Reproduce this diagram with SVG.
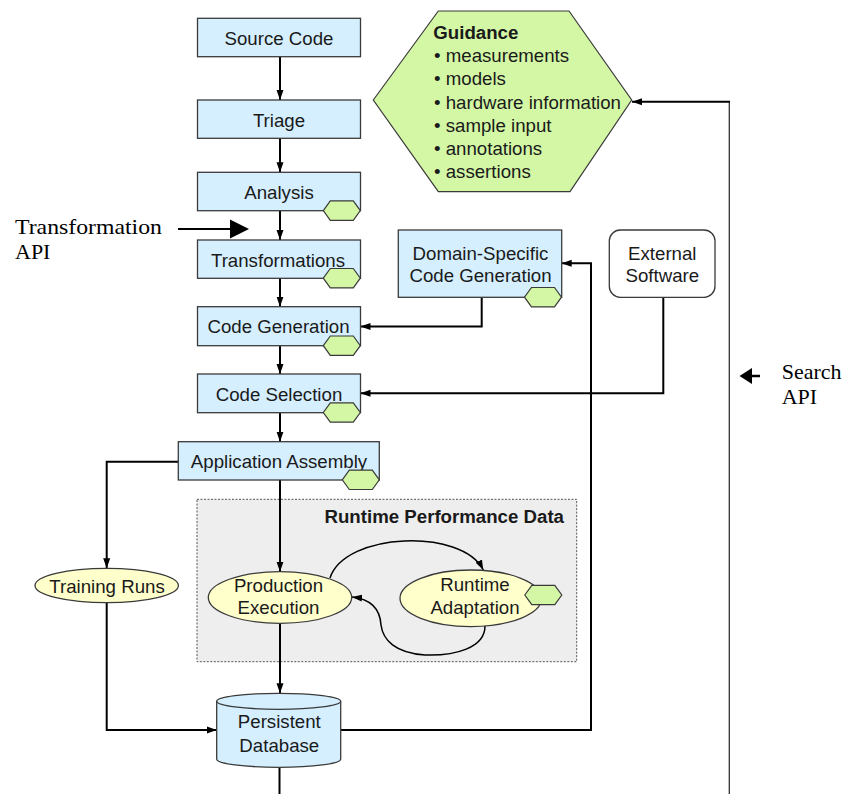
<svg xmlns="http://www.w3.org/2000/svg" width="847" height="794" viewBox="0 0 847 794">
<style>
  .box { fill: #d5efff; stroke: #3a3a3a; stroke-width: 1.3; }
  .ell { fill: #ffffcc; stroke: #3a3a3a; stroke-width: 1.3; }
  .hex { fill: #d4f7a6; stroke: #3a3a3a; stroke-width: 1.2; }
  .lbl { font-family: "Liberation Sans", Arial, sans-serif; font-size: 18.67px; fill: #1a1a1a; text-anchor: middle; }
  .gtx { font-family: "Liberation Sans", Arial, sans-serif; font-size: 18.67px; fill: #1a1a1a; }
  .bold { font-weight: bold; }
  .api { font-family: "Liberation Serif", "Times New Roman", serif; font-size: 22px; fill: #000; }
  .con { fill: none; stroke: #000; stroke-width: 2; }
  .thin { fill: none; stroke: #333; stroke-width: 1.3; }
</style>
<defs>
  <marker id="arr" markerUnits="userSpaceOnUse" markerWidth="10" markerHeight="8" refX="10" refY="4" orient="auto">
    <path d="M0,0.5 L10,4 L0,7.5 z" fill="#000"/>
  </marker>
  <polygon id="hx" points="-18.5,0 -11.5,-9.7 11.5,-9.7 18.5,0 11.5,9.7 -11.5,9.7"/>
</defs>

<rect width="847" height="794" fill="#ffffff"/>

<g id="runtime-performance-data">
  <rect x="197" y="499.3" width="379.7" height="162.4" fill="#eeeeee" stroke="#555" stroke-width="1" stroke-dasharray="2,1.5"/>
  <text class="gtx bold" x="564" y="523" text-anchor="end">Runtime Performance Data</text>
</g>

<g id="connectors">
  <path class="con" d="M280,56.7 V100" marker-end="url(#arr)"/>
  <path class="con" d="M280,138.3 V172.3" marker-end="url(#arr)"/>
  <path class="con" d="M280,210.7 V240" marker-end="url(#arr)"/>
  <path class="con" d="M280,278.3 V306.7" marker-end="url(#arr)"/>
  <path class="con" d="M280,345.7 V374" marker-end="url(#arr)"/>
  <path class="con" d="M280,412.7 V441.7" marker-end="url(#arr)"/>
  <path class="con" d="M280,480 V571.7" marker-end="url(#arr)"/>
  <path class="con" d="M178.3,461.7 H106.7 V568.3" marker-end="url(#arr)"/>
  <path class="con" d="M106.7,602.7 V730 H216.7" marker-end="url(#arr)"/>
  <path class="con" d="M280,623.3 V693.3" marker-end="url(#arr)"/>
  <path class="con" d="M340.7,730 H591 V263.3 H561.7" marker-end="url(#arr)"/>
  <path class="con" d="M481.7,297.3 V326.5 H360.5" marker-end="url(#arr)"/>
  <path class="con" d="M663.3,297.3 V393.3 H360.5" marker-end="url(#arr)"/>
  <path class="con" d="M279.5,767.3 V794"/>
  <path class="thin" d="M729.3,794 V101.7"/>
  <path class="con" d="M730,101.7 H632" marker-end="url(#arr)"/>
  <path fill="none" stroke="#000" stroke-width="1.5" d="M330,578 C345,532 462,528 483.3,570" marker-end="url(#arr)"/>
  <path fill="none" stroke="#000" stroke-width="1.5" d="M485,626 C485,648 455,656 425,655 C395,653 383,640 381,625 C380,608 370,599 352,597" marker-end="url(#arr)"/>
</g>

<g id="transformation-api">
  <text class="api" x="15" y="234.3" textLength="147" lengthAdjust="spacingAndGlyphs">Transformation</text>
  <text class="api" x="15" y="259">API</text>
  <path d="M178,229 H232" stroke="#000" stroke-width="2"/>
  <polygon points="230,219.5 249,229 230,238.5" fill="#000"/>
</g>

<g id="search-api">
  <polygon points="739.5,376 752,368 752,384" fill="#000"/>
  <path d="M751,376 H760" stroke="#000" stroke-width="2.5"/>
  <text class="api" x="781.7" y="379.3">Search</text>
  <text class="api" x="781.7" y="403.5">API</text>
</g>

<g id="guidance">
  <polygon class="hex" points="373.3,100 438.3,11 569,11 631.7,100 570,191.7 438.3,191.7"/>
  <text class="gtx bold" x="433.3" y="39.3">Guidance</text>
  <text class="gtx" x="434" y="62.2">• measurements</text>
  <text class="gtx" x="434" y="85.4">• models</text>
  <text class="gtx" x="434" y="108.6">• hardware information</text>
  <text class="gtx" x="434" y="131.8">• sample input</text>
  <text class="gtx" x="434" y="155">• annotations</text>
  <text class="gtx" x="434" y="178.2">• assertions</text>
</g>

<g id="source-code">
  <rect class="box" x="197.5" y="18.3" width="163" height="38.4"/>
  <text class="lbl" x="279" y="44.8">Source Code</text>
</g>

<g id="triage">
  <rect class="box" x="197.5" y="100" width="163" height="38.3"/>
  <text class="lbl" x="279" y="126.5">Triage</text>
</g>

<g id="analysis">
  <rect class="box" x="197.5" y="172.3" width="163" height="38.4"/>
  <text class="lbl" x="279" y="198.8">Analysis</text>
  <use href="#hx" class="hex" transform="translate(341.8,210.6)"/>
</g>

<g id="transformations">
  <rect class="box" x="197.5" y="240" width="163" height="38.3"/>
  <text class="lbl" x="278" y="266.5">Transformations</text>
  <use href="#hx" class="hex" transform="translate(341.8,278.2)"/>
</g>

<g id="code-generation">
  <rect class="box" x="197.5" y="306.7" width="163" height="39"/>
  <text class="lbl" x="278.5" y="333.4">Code Generation</text>
  <use href="#hx" class="hex" transform="translate(341.8,345.7)"/>
</g>

<g id="code-selection">
  <rect class="box" x="197.5" y="374" width="163" height="38.7"/>
  <text class="lbl" x="279" y="400.8">Code Selection</text>
  <use href="#hx" class="hex" transform="translate(341.8,412.5)"/>
</g>

<g id="application-assembly">
  <rect class="box" x="178.3" y="441.7" width="201" height="38.3"/>
  <text class="lbl" x="279" y="468">Application Assembly</text>
  <use href="#hx" class="hex" transform="translate(360.8,479.8)"/>
</g>

<g id="domain-specific-code-generation">
  <rect class="box" x="398.3" y="230" width="163.4" height="67.3"/>
  <text class="lbl" x="480.5" y="259.7">Domain-Specific</text>
  <text class="lbl" x="480.5" y="281.7">Code Generation</text>
  <use href="#hx" class="hex" transform="translate(543,297.2)"/>
</g>

<g id="external-software">
  <rect x="609.3" y="230" width="105.7" height="67.3" rx="11" fill="#ffffff" stroke="#3a3a3a" stroke-width="1.3"/>
  <text class="lbl" x="662.3" y="259.5">External</text>
  <text class="lbl" x="662.3" y="281.7">Software</text>
</g>

<g id="training-runs">
  <ellipse class="ell" cx="106.7" cy="585.5" rx="71.7" ry="17.2"/>
  <text class="lbl" x="107" y="592.5">Training Runs</text>
</g>

<g id="production-execution">
  <ellipse class="ell" cx="280" cy="597.5" rx="71.7" ry="25.8"/>
  <text class="lbl" x="278.5" y="591.7">Production</text>
  <text class="lbl" x="278.5" y="613.5">Execution</text>
</g>

<g id="runtime-adaptation">
  <ellipse class="ell" cx="470.8" cy="598.3" rx="70.8" ry="28.3"/>
  <text class="lbl" x="475" y="590.5">Runtime</text>
  <text class="lbl" x="475" y="613.5">Adaptation</text>
  <use href="#hx" class="hex" transform="translate(543.3,595)"/>
</g>

<g id="persistent-database">
  <path class="box" d="M216.7,701.3 A62,8 0 0 1 340.7,701.3 L340.7,759.3 A62,8 0 0 1 216.7,759.3 Z"/>
  <path fill="none" stroke="#3a3a3a" stroke-width="1.3" d="M216.7,701.3 A62,8 0 0 0 340.7,701.3"/>
  <text class="lbl" x="279.3" y="728.3">Persistent</text>
  <text class="lbl" x="279.3" y="751.7">Database</text>
</g>
</svg>
